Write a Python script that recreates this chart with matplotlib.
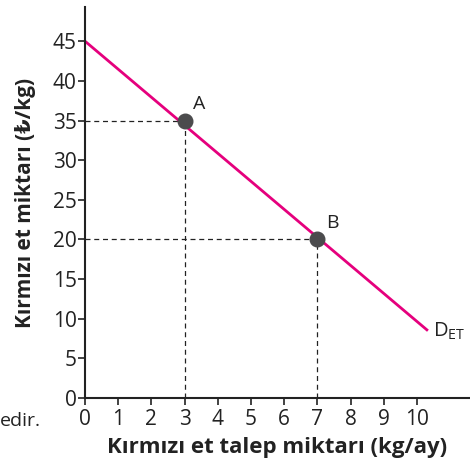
import matplotlib.pyplot as plt

plt.rcParams['font.family'] = ['Open Sans', 'DejaVu Sans']

# demand line end points and the two marked points
line_q = [0, 10.3]
line_p = [45, 8.6]
point_names = ['A', 'B']
point_q = [3, 7]
point_p = [35, 20]
xticks = list(range(0, 11))
yticks = list(range(0, 50, 5))

fig = plt.figure(figsize=(4.7, 4.62), dpi=100)
ax = fig.add_axes([0.181, 0.1385, 0.819, 0.846])

ax.plot(line_q, line_p, color='#E5007D', lw=2, zorder=2)

for name, q, p in zip(point_names, point_q, point_p):
    ax.plot([0, q], [p, p], color='#222222', lw=0.9, ls=(0, (4, 3)), zorder=1)
    ax.plot([q, q], [0, p], color='#222222', lw=0.9, ls=(0, (4, 3)), zorder=1)
    ax.plot(q, p, 'o', color='#4B4B4D', ms=10.5, zorder=3)
    ax.text(q + 0.25, p + 0.9, name, fontsize=14, color='#222222', ha='left', va='bottom')

ax.text(line_q[1] + 0.2, line_p[1] + 1.2, '$\\mathregular{D_{ET}}$', fontsize=14.5,
        color='#222222', ha='left', va='top')

ax.set_xlim(0, 11.6)
ax.set_ylim(0, 49.3)
ax.set_xticks(xticks)
ax.set_yticks(yticks)
ax.tick_params(labelsize=15, length=5, width=1.2, colors='#222222', pad=1)
ax.tick_params(axis='x', pad=3)
for s in ['top', 'right']:
    ax.spines[s].set_visible(False)
for s in ['left', 'bottom']:
    ax.spines[s].set_linewidth(1.5)
    ax.spines[s].set_color('#222222')

ax.set_xlabel('Kırmızı et talep miktarı (kg/ay)', fontsize=16, fontweight='bold',
              color='#222222', labelpad=5)
ax.set_ylabel('Kırmızı et miktarı (₺/kg)', fontsize=15, fontweight='bold',
              color='#222222', labelpad=12)

fig.text(0.0, 0.088, 'edir.', fontsize=14, color='#222222', ha='left', va='center')

fig.savefig('out.png', dpi=100)
